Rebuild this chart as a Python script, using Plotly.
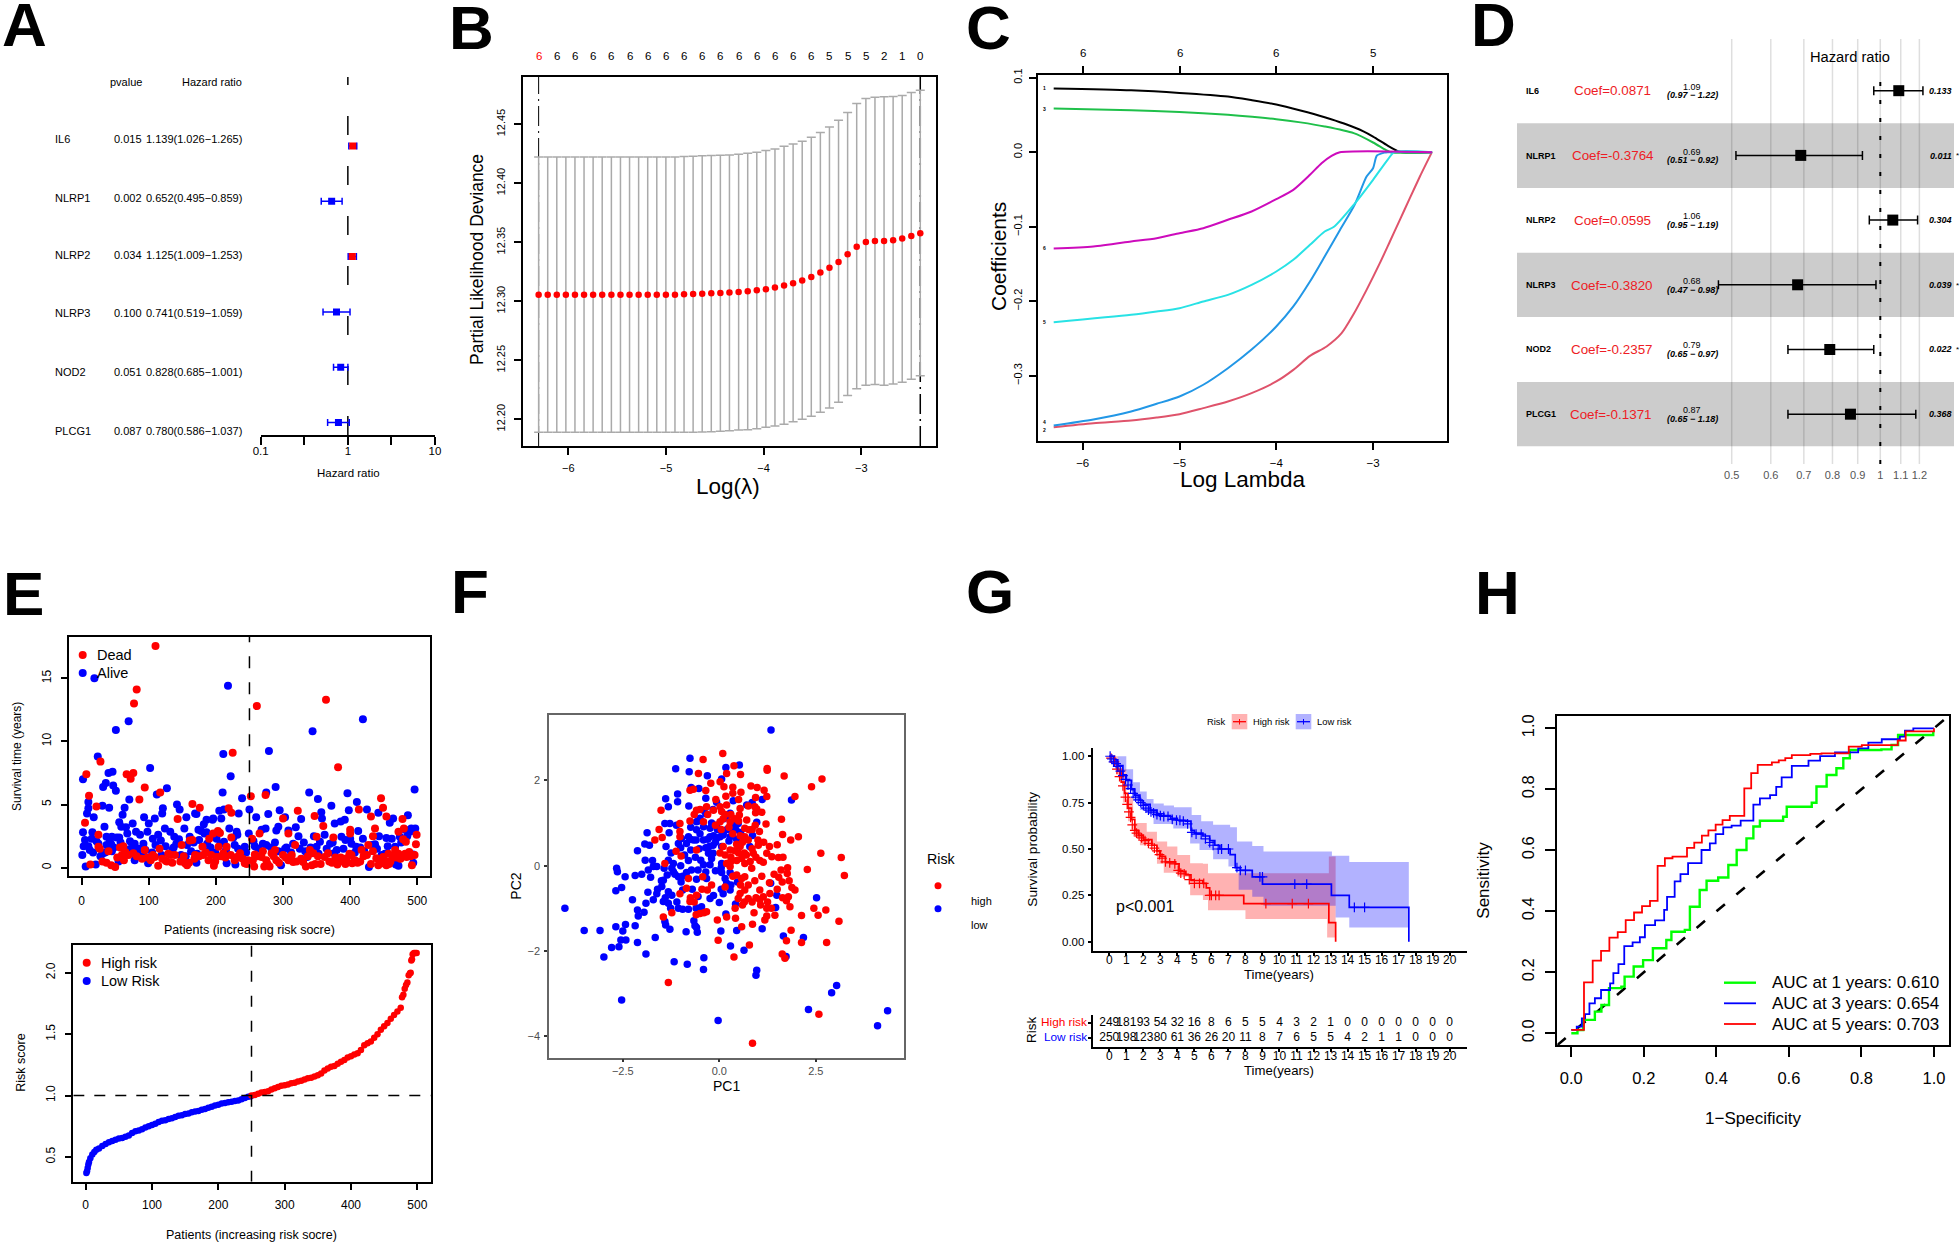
import plotly.graph_objects as go

W, H = 1960, 1244
FONT = "Liberation Sans"

# ---- A
a_genes = ["IL6", "NLRP1", "NLRP2", "NLRP3", "NOD2", "PLCG1"]
a_p = ["0.015", "0.002", "0.034", "0.100", "0.051", "0.087"]
a_txt = ["1.139(1.026−1.265)", "0.652(0.495−0.859)", "1.125(1.009−1.253)",
         "0.741(0.519−1.059)", "0.828(0.685−1.001)", "0.780(0.586−1.037)"]
a_hr = [1.139, 0.652, 1.125, 0.741, 0.828, 0.780]
a_lo = [1.026, 0.495, 1.009, 0.519, 0.685, 0.586]
a_hi = [1.265, 0.859, 1.253, 1.059, 1.001, 1.037]

# ---- B
b_x = [-6.304,-6.211,-6.118,-6.025,-5.932,-5.839,-5.746,-5.653,-5.559,-5.466,-5.373,-5.280,-5.187,-5.094,-5.001,-4.908,-4.815,-4.722,-4.629,-4.536,-4.443,-4.350,-4.256,-4.163,-4.070,-3.977,-3.884,-3.791,-3.698,-3.605,-3.512,-3.419,-3.326,-3.233,-3.140,-3.047,-2.953,-2.860,-2.767,-2.674,-2.581,-2.488,-2.396]
b_mean = [12.3056]*16 + [12.3060,12.3062,12.3064,12.3068,12.3071,12.3075,12.3079,12.3085,12.3093,12.3102,12.3116,12.3133,12.3153,12.3175,12.3206,12.3243,12.3285,12.3333,12.3398,12.3463,12.3503,12.3511,12.3511,12.3517,12.3531,12.3554,12.3576]
b_up = [12.4223]*16 + [12.4226,12.4229,12.4232,12.4235,12.4237,12.4240,12.4246,12.4254,12.4263,12.4277,12.4291,12.4314,12.4333,12.4356,12.4390,12.4429,12.4477,12.4534,12.4599,12.4675,12.4718,12.4729,12.4732,12.4735,12.4743,12.4768,12.4788]
b_lo = [12.1890]*18 + [12.1893,12.1895,12.1898,12.1904,12.1910,12.1912,12.1921,12.1932,12.1943,12.1958,12.1980,12.2000,12.2025,12.2059,12.2096,12.2144,12.2201,12.2260,12.2288,12.2294,12.2288,12.2299,12.2314,12.2339,12.2370]
b_top = ["6"]*16 + ["5","5","5","2","1","0"]

# ---- C
c_black_x = [-6.3,-5.5,-5,-4.5,-4.25,-4,-3.75,-3.5,-3.3,-3.1,-3,-2.85,-2.75,-2.7,-2.39]
c_black_y = [.0855,.083,.0796,.0747,.0697,.064,.056,.047,.0385,.028,.021,.0089,.0018,0,0]
c_green_x = [-6.3,-5.5,-5,-4.5,-4.25,-4,-3.75,-3.5,-3.2,-3,-2.87,-2.82,-2.39]
c_green_y = [.0586,.0564,.0541,.0501,.0475,.0443,.04,.0345,.0255,.013,.003,0,0]
c_mag_x = [-6.3,-5.89,-5.5,-5.236,-5,-4.754,-4.5,-4.255,-4,-3.824,-3.652,-3.532,-3.429,-3.343,-2.39]
c_mag_y = [-.1293,-.1266,-.1199,-.1154,-.1087,-.102,-.0908,-.0796,-.0631,-.0506,-.0304,-.0148,-.0049,0,0]
c_cyan_x = [-6.3,-5.5,-5.236,-5,-4.754,-4.5,-4.255,-4,-3.824,-3.652,-3.5,-3.4,-3.2,-3,-2.85,-2.78,-2.39]
c_cyan_y = [-.2282,-.2183,-.2139,-.2094,-.2004,-.1915,-.1781,-.1602,-.1445,-.1244,-.1065,-.0998,-.0707,-.0371,-.0103,0,0]
c_blue_x = [-6.3,-5.89,-5.5,-5.236,-5,-4.754,-4.5,-4.255,-4,-3.824,-3.652,-3.5,-3.342,-3.188,-3.067,-3,-2.96,-2.88,-2.85,-2.39]
c_blue_y = [-.3669,-.3588,-.3481,-.3378,-.328,-.3122,-.29,-.265,-.234,-.2071,-.1736,-.14,-.1043,-.0698,-.0327,-.0215,-.0045,-.0005,0,0]
c_red_x = [-6.3,-5.89,-5.5,-5.236,-5,-4.754,-4.5,-4.255,-4,-3.824,-3.652,-3.48,-3.325,-3.205,-3.067,-2.93,-2.826,-2.723,-2.62,-2.516,-2.392]
c_red_y = [-.3691,-.3638,-.3602,-.3562,-.3517,-.3436,-.3347,-.3235,-.3078,-.2922,-.2734,-.2608,-.243,-.2183,-.1848,-.149,-.1199,-.0908,-.0617,-.0327,0]

# ---- D
d_genes = ["IL6", "NLRP1", "NLRP2", "NLRP3", "NOD2", "PLCG1"]
d_coef = ["Coef=0.0871", "Coef=-0.3764", "Coef=0.0595", "Coef=-0.3820", "Coef=-0.2357", "Coef=-0.1371"]
d_hr = [1.09, 0.69, 1.06, 0.68, 0.79, 0.87]
d_lo = [0.97, 0.51, 0.95, 0.47, 0.65, 0.65]
d_hi = [1.22, 0.92, 1.19, 0.98, 0.97, 1.18]
d_hrt = ["1.09", "0.69", "1.06", "0.68", "0.79", "0.87"]
d_cit = ["(0.97 − 1.22)", "(0.51 − 0.92)", "(0.95 − 1.19)", "(0.47 − 0.98)", "(0.65 − 0.97)", "(0.65 − 1.18)"]
d_p = ["0.133", "0.011", "0.304", "0.039", "0.022", "0.368"]
d_star = ["", "*", "", "*", "*", ""]
d_ticks = [0.5, 0.6, 0.7, 0.8, 0.9, 1, 1.1, 1.2]
d_ticktext = ["0.5", "0.6", "0.7", "0.8", "0.9", "1", "1.1", "1.2"]

# ---- E (upper)
e_blue = [(19,15.0),(51,10.9),(70,11.6),(24,8.8),(2,7.0),(40,7.5),(46,7.6),(36,6.7),(32,6.4),(47,6.5),(51,6.1),(10,5.2),(10,4.7),(8,4.3),(31,4.9),(41,4.75),(71,5.4),(64,4.75),(61,4.2),(102,7.9),(127,6.3),(112,5.8),(142,5.0),(146,4.6),(121,4.7),(120,4.3),(109,3.9),(93,4.0),(100,3.5),(18,4.0),(56,3.6),(59,3.25),(66,3.2),(76,3.5),(34,3.25),(2,2.8),(16,2.8),(15,2.3),(1,1.0),(6,0.1),(21,0.25),(17,1.2),(31,1.1),(25,1.9),(3,1.7),(10,1.7),(45,1.3),(37,2.45),(45,2.45),(52,2.4),(56,2.4),(37,1.8),(44,1.85),(55,0.5),(81,2.85),(87,2.6),(72,2.1),(79,1.9),(92,1.9),(84,1.5),(70,1.45),(79,0.6),(89,0.9),(99,0.35),(98,2.85),(106,2.3),(118,2.15),(124,3.1),(132,2.85),(138,2.45),(145,2.25),(153,3.1),(156,4.0),(171,4.25),(169,4.3),(182,3.45),(186,3.8),(196,3.9),(195,3.8),(205,4.5),(212,4.6),(208,3.9),(210,5.95),(211,9.0),(218,14.4),(222,7.25),(239,5.5),(234,4.3),(250,4.6),(260,4.0),(220,3.1),(231,2.85),(232,2.6),(249,2.7),(174,3.0),(186,2.8),(161,2.45),(175,2.2),(187,1.9),(190,1.35),(201,2.3),(212,2.05),(228,1.8),(243,1.65),(238,1.15),(216,.35),(229,.25),(171,.4),(149,.6),(157,1.8),(137,1.6),(119,1.0),(256,2.1),(275,5.95),(279,9.25),(289,6.4),(278,4.25),(295,4.55),(303,4.0),(268,3.0),(274,3.1),(290,2.95),(293,3.25),(308,2.95),(319,3.2),(327,3.85),(323,2.5),(339,5.95),(344,10.8),(352,5.45),(357,4.4),(358,3.9),(372,4.9),(396,5.9),(398,4.55),(392,3.8),(386,3.65),(377,3.5),(419,11.75),(410,5.2),(425,4.6),(442,4.35),(412,2.9),(419,2.3),(400,2.3),(387,2.45),(362,2.6),(346,2.5),(331,2.0),(315,1.9),(303,1.5),(288,2.0),(275,1.8),(263,1.5),(297,.2),(336,.85),(350,1.65),(355,2.05),(370,1.9),(376,1.15),(390,1.5),(384,.5),(409,1.65),(428,.05),(432,1.8),(443,2.5),(454,2.35),(437,1.85),(452,1.1),(464,3.9),(459,3.55),(486,4.15),(496,6.2),(497,3.1),(482,3.0),(489,2.85),(474,2.45),(467,1.65),(494,1.05),(494,.4),(472,.15),(468,.25)]
e_blue_band = [(5,2.2),(12,1.4),(22,2.1),(28,.9),(35,1.2),(42,2.1),(48,1.6),(58,2.0),(63,.9),(68,2.7),(75,1.6),(83,1.1),(95,1.4),(105,1.2),(110,1.8),(114,2.6),(125,1.7),(135,1.4),(141,1.9),(148,1.0),(155,.9),(163,1.3),(167,2.0),(172,1.1),(178,2.9),(183,2.7),(192,1.6),(199,1.2),(207,1.9),(215,1.4),(226,2.4),(233,1.5),(245,1.2),(258,1.7),(270,1.9),(282,1.6),(293,1.3),(305,1.6),(312,1.2),(325,1.5),(333,1.3),(341,1.6),(353,1.1),(365,1.5),(374,2.0),(380,1.4),(393,2.2),(402,1.9),(407,1.2),(415,1.6),(421,1.3),(440,1.5),(447,1.0),(456,1.7),(462,2.3),(470,.5),(476,2.0),(485,2.5),(491,3.1)]
e_red = [(110,17.55),(82,14.1),(78,13.0),(261,12.8),(364,13.3),(225,9.1),(382,7.95),(28,8.4),(7,7.4),(67,7.4),(77,7.5),(73,7.05),(94,6.35),(11,5.7),(86,5.4),(117,5.95),(165,5.05),(176,4.75),(22,4.85),(5,3.55),(143,3.85),(219,4.7),(223,4.35),(252,5.65),(274,5.75),(322,4.5),(347,4.1),(300,3.9),(360,3.3),(446,5.5),(449,4.75),(413,4.6),(431,4.05),(454,4.05),(478,3.85),(437,3.1),(400,3.0),(400,2.7),(472,2.85),(480,3.1),(499,2.6),(498,1.85),(483,2.05),(479,2.25),(434,2.5),(375,2.4),(350,2.45),(308,2.7),(265,2.7),(254,2.3),(203,2.9),(196,2.7),(206,2.75),(223,2.4),(190,2.3),(180,1.65),(149,1.8),(161,2.15),(165,2.2),(25,2.6),(25,1.65),(27,1.5),(62,1.7),(57,1.6),(65,1.25),(63,.6),(53,.8),(37,.4),(44,.2),(50,.05),(13,.25),(77,1.15),(94,1.4),(103,.6),(109,.85),(114,.15),(116,1.5),(129,1.1),(125,.55),(139,1.0),(135,.4),(154,.35),(157,.2),(169,1.0),(181,1.0),(189,.6),(197,.15),(201,.85),(204,1.65),(216,1.65),(211,1.15),(231,.85),(236,1.15),(243,.35),(248,.6),(257,.1),(258,1.05),(268,.85),(272,.1),(280,.1),(275,.6),(283,1.15),(290,.6),(288,1.4),(300,1.0),(308,.6),(313,1.0),(315,.45),(318,1.8),(330,.45),(334,.1),(343,.2),(340,1.4),(345,1.15),(356,.3),(362,.85),(367,1.15),(373,.4),(381,.25),(390,.5),(395,.75),(402,1.0),(403,.35),(415,.5),(417,1.4),(425,1.0),(427,1.8),(434,1.3),(439,.75),(442,.2),(449,.85),(449,.35),(454,.2),(457,1.1),(460,.5),(467,1.4),(472,1.1),(477,.9),(484,.85),(488,1.25),(492,.2)]
e_red_band = [(31,.5),(40,1.3),(60,1.0),(70,1.0),(82,.9),(90,.7),(98,.8),(106,1.0),(120,.7),(127,.5),(133,1.0),(147,.5),(152,.9),(160,.4),(168,.7),(175,.9),(185,1.2),(193,1.0),(199,.5),(208,.9),(214,.8),(222,1.0),(228,.6),(234,.8),(240,.7),(246,.3),(255,.6),(262,.9),(270,1.3),(277,.3),(286,.9),(294,.4),(304,.8),(311,.7),(320,.5),(327,.7),(337,.9),(348,.3),(352,.9),(369,.5),(378,.8),(386,.8),(393,.3),(399,1.1),(407,.6),(411,.4),(420,.9),(431,.3),(445,.5),(451,.6),(458,.3),(463,.9),(469,.8),(475,.7),(482,1.1),(490,.9),(496,1.0)]

# ---- E (lower)
r_low_x = [1,2,3,4,5,7,10,13,16,20,25,30,35,40,45,50,55,60,65,70,75,80,85,90,95,100,105,110,115,120,125,130,135,140,145,150,155,160,165,170,175,180,185,190,195,200,205,210,215,220,225,230,235,240,245,249]
r_low_y = [.37,.385,.41,.44,.46,.49,.52,.54,.56,.57,.59,.605,.62,.63,.64,.65,.655,.665,.675,.695,.71,.715,.725,.74,.75,.76,.77,.785,.795,.80,.81,.815,.825,.835,.84,.85,.855,.865,.87,.875,.885,.89,.90,.91,.92,.925,.935,.94,.945,.95,.955,.96,.97,.98,.99,.995]
r_high_x = [250,255,260,265,270,275,280,285,290,295,300,305,310,315,320,325,330,335,340,345,350,355,360,365,370,375,380,385,390,395,400,405,410,415,420,425,430,435,440,445,450,455,460,465,470,475,477,479,481,483,485,487,489,490,491,492,493,495,497,499]
r_high_y = [1.0,1.005,1.015,1.025,1.03,1.035,1.05,1.06,1.07,1.08,1.085,1.09,1.10,1.105,1.115,1.12,1.13,1.14,1.145,1.155,1.165,1.18,1.205,1.22,1.235,1.24,1.26,1.275,1.29,1.31,1.32,1.335,1.345,1.37,1.41,1.425,1.44,1.47,1.50,1.535,1.565,1.59,1.625,1.655,1.685,1.715,1.80,1.82,1.87,1.90,1.92,1.98,1.995,2.0,2.10,2.11,2.15,2.16,2.16,2.16]

# ---- F
f_blue = [(1.34,3.18),(-.76,2.52),(.52,2.36),(.17,2.30),(-1.13,2.27),(-.78,2.20),(-.31,2.11),(.06,2.03),(-.53,1.81),(-.73,1.83),(-1.39,1.57),(-1.08,1.68),(-.35,1.58),(.36,1.52),(-.07,1.49),(1.87,1.54),(1.11,1.55),(-1.32,1.38),(-1.08,1.50),(-.79,1.40),(-.41,1.30),(-.16,1.32),(.85,1.48),(.71,1.42),(.19,1.16),(.28,1.23),(-.50,1.11),(-.59,1.03),(-1.41,.99),(-1.28,.99),(-1.11,.95),(-.74,.90),(-.59,.84),(-.41,.91),(-.24,.88),(-.07,.95),(.36,.95),(.49,.99),(.97,1.02),(.43,.84),(-1.87,.77),(-1.30,.77),(-.80,.68),(-.98,.64),(-.85,.52),(-.67,.60),(-.41,.60),(-.24,.68),(-.07,.64),(.02,.68),(.10,.76),(.28,.68),(.86,.71),(-1.93,.51),(-1.81,.48),(-1.38,.45),(-1.06,.52),(-.74,.37),(-.26,.45),(-.16,.48),(.06,.45),(.79,.45),(-2.12,.35),(-1.92,.13),(-1.73,.12),(-1.32,.13),(-1.19,.05),(-.80,.12),(-.48,.13),(-.28,.29),(-.16,.29),(-.20,.17),(-1.62,-.02),(-1.84,-.10),(-1.71,-.02),(-1.43,-.06),(-1.23,-.06),(-.72,-.10),(-.41,.02),(-.24,.02),(.06,.05),(-2.66,-.06),(-2.64,-.14),(-2.44,-.26),(-2.18,-.23),(-2.01,-.20),(-1.78,-.27),(-1.45,-.34),(-1.19,-.14),(-1.06,-.26),(-.85,-.16),(-.59,-.32),(-.33,-.30),(.06,-.16),(.28,-.16),(-.99,-.38),(-.95,-.57),(-1.32,-.61),(-1.49,-.49),(-1.23,-.69),(-2.68,-.59),(-2.53,-.51),(-1.85,-.62),(-1.62,-.66),(-1.71,-.80),(-2.25,-.80),(-1.90,-.88),(-1.45,-.84),(-1.32,-.88),(-1.26,-1.0),(-1.06,-1.0),(-.95,-1.02),(-.80,-1.02),(-.57,-1.0),(-.46,-.96),(-.24,-.77),(0,-.86),(.10,-.66),(.28,-.57),(.19,-.41),(.47,-.38),(1.33,-.41),(1.49,-.69),(2.52,-.75),(.42,-.90),(1.46,-.98),(-4.0,-1.0),(-2.12,-1.04),(-1.95,-1.09),(-2.10,-1.18),(-.66,-1.29),(-1.41,-1.31),(-1.39,-1.39),(-1.28,-1.49),(-.59,-1.45),(-.63,-1.41),(-2.43,-1.38),(-2.68,-1.43),(-2.18,-1.41),(-3.50,-1.52),(-3.09,-1.52),(-2.50,-1.53),(.04,-1.53),(-.86,-1.55),(-.57,-1.56),(.45,-1.52),(1.11,-1.48),(.17,-1.13),(-1.66,-1.68),(1.66,-1.65),(2.18,-1.68),(-2.55,-1.74),(-2.42,-1.74),(-2.12,-1.80),(-2.79,-1.92),(-2.60,-1.90),(.29,-1.88),(.64,-1.98),(-1.90,-2.07),(-2.99,-2.14),(-.40,-2.16),(-1.17,-2.25),(-.83,-2.31),(-.41,-2.43),(1.73,-2.13),(.97,-2.45),(.95,-2.57),(3.04,-2.81),(2.91,-2.98),(-2.53,-3.15),(2.31,-3.37),(4.36,-3.40),(-.03,-3.63),(4.10,-3.75)]
f_blue_core = [(-.6,.6),(-.5,.75),(-.3,.62),(-.15,.7),(-.1,.55),(-.35,.42),(-.52,.4),(-.62,.2),(-.9,.25),(-1.0,.0),(-1.15,-.2),(-1.35,-.22),(-1.5,-.35),(-.95,-.25),(-.55,-.1),(-.35,-.15),(-.1,-.12),(.05,-.05),(.15,-.3),(.3,-.45),(.05,-.55),(-.15,-.7),(-.55,-.72),(-.7,-.55),(-1.6,-.55),(-1.4,-.75),(-1.1,-.85),(-.6,-1.0),(.1,.72),(.25,.58),(.2,.85),(.35,.8),(.45,.62),(.55,.78),(-.55,1.05),(-.35,1.22),(-1.0,.42),(-.75,.62),(-1.25,.3),(.12,1.1),(-.2,1.0),(-.05,.85)]
f_red = [(.09,2.63),(-.42,2.49),(.38,2.34),(1.24,2.28),(1.24,2.24),(.19,2.16),(-.54,2.16),(.55,2.14),(1.68,2.10),(2.66,2.03),(2.39,1.85),(-.22,1.93),(.02,1.97),(.12,1.85),(.35,1.84),(.82,1.87),(.98,1.83),(1.16,1.77),(-.35,1.76),(-.76,1.77),(-.67,1.79),(.56,1.72),(-.09,1.55),(.17,1.63),(1.23,1.62),(.94,1.60),(1.96,1.62),(-1.51,1.30),(-.50,1.32),(-.33,1.38),(-.59,1.30),(.02,1.38),(.19,1.42),(.54,1.34),(.92,1.38),(.97,1.33),(.94,1.24),(.06,1.27),(.52,1.19),(1.61,1.09),(-1.02,.99),(-.76,1.05),(-.41,1.03),(.02,1.03),(.28,1.03),(.71,1.07),(1.21,.98),(.93,.95),(-1.56,.85),(-1.02,.80),(.66,.88),(.77,.84),(1.04,.80),(1.64,.73),(-1.48,.66),(-1.67,.60),(-1.02,.68),(.54,.70),(.66,.68),(1.85,.60),(2.05,.68),(-1.12,.34),(-.99,.23),(-.59,.37),(.02,.30),(.28,.37),(.54,.45),(1.01,.48),(.88,.29),(1.50,.49),(2.63,.29),(3.16,.19),(1.23,.29),(1.36,.21),(1.53,.19),(1.05,.12),(1.14,.08),(-1.41,.05),(.19,.05),(.58,.17),(.66,.05),(.84,-.06),(.28,-.02),(2.28,-.09),(1.77,-.05),(1.76,-.18),(1.42,-.20),(1.54,-.27),(3.24,-.23),(-.43,-.26),(-.80,-.30),(.66,-.26),(.92,-.35),(.45,-.22),(.58,-.30),(1.63,-.38),(1.81,-.35),(1.88,-.51),(1.96,-.57),(1.05,-.57),(1.31,-.65),(-.85,-.53),(-.31,-.57),(-.59,-.69),(-1.02,-.66),(.66,-.57),(.54,-.65),(.75,-.77),(.49,-.77),(1.64,-.75),(1.79,-.73),(1.74,-.82),(-.76,-.84),(1.05,-.80),(1.14,-.73),(1.83,-.96),(1.07,-.92),(.60,-.92),(.41,-1.0),(1.23,-1.0),(2.45,-1.0),(.90,-1.10),(2.76,-1.04),(2.56,-1.16),(1.44,-1.16),(1.23,-1.18),(2.13,-1.17),(-.50,-1.12),(-.33,-1.08),(-1.45,-1.20),(-1.23,-1.10),(-.05,-1.27),(.19,-1.20),(.42,-1.23),(1.18,-1.27),(3.10,-1.30),(.86,-1.37),(.58,-1.43),(1.86,-1.51),(-.03,-1.75),(1.74,-1.76),(2.13,-1.80),(2.78,-1.80),(.78,-1.86),(.38,-2.14),(1.63,-2.07),(1.70,-2.17),(-1.32,-2.74),(2.58,-3.48),(.86,-4.16)]
f_red_core = [(.3,1.2),(.4,1.1),(.5,1.05),(.15,1.2),(.1,1.1),(.25,.9),(.05,.85),(-.1,.95),(.35,.75),(.45,.5),(.6,.55),(.75,.6),(.85,.4),(.4,.35),(.3,.2),(.15,.25),(.5,.3),(.7,.25),(.95,.2),(.65,.3),(.45,.12),(.3,.1),(.8,.1),(.35,-.25),(.15,-.5),(.55,-.45),(.75,-.45),(.85,-.85),(1.1,-.25),(1.3,-.4),(1.5,-.55),(1.25,-.85),(1.35,-1.0),(.95,-.75),(-.2,-.45),(-.45,-.55),(-.65,-.85),(-.4,-1.1),(-.6,-1.15),(-.75,-.75),(.65,-.85),(1.0,.6),(1.15,.55),(.85,.85),(1.1,1.25),(.75,1.4),(.5,1.55),(.35,1.7),(.1,.45),(-.3,1.2),(-.15,1.3),(-.65,1.2),(1.6,-.1),(1.65,.2),(1.3,.45)]

# ---- G
g_low = [(0,1.0),(.3,.98),(.5,.95),(.8,.90),(1,.87),(1.3,.82),(1.5,.79),(1.8,.76),(2,.74),(2.4,.71),(2.8,.69),(3.2,.68),(3.6,.665),(4,.655),(4.5,.65),(4.8,.60),(5.0,.585),(5.5,.57),(5.9,.545),(6.2,.52),(6.5,.50),(7.1,.47),(7.4,.40),(7.7,.385),(8.4,.35),(9.0,.31),(13.05,.25),(14.1,.185),(17.6,0)]
g_high = [(0,1.0),(.3,.96),(.5,.92),(.7,.86),(.9,.80),(1.1,.72),(1.3,.66),(1.5,.60),(1.7,.575),(2,.55),(2.5,.52),(2.8,.49),(3,.46),(3.3,.43),(3.9,.42),(4.1,.38),(4.5,.36),(4.8,.33),(5.5,.315),(5.7,.29),(5.9,.25),(7.9,.205),(12.9,.103),(13.3,0)]
g_low_up = [(0,1.0),(1,.93),(1.4,.86),(1.8,.81),(2.2,.77),(2.6,.745),(3.2,.735),(3.8,.725),(4.84,.683),(5.4,.65),(6.1,.63),(7.1,.617),(7.5,.54),(8.4,.516),(9.06,.486),(13.08,.464),(14.1,.43),(17.6,.43)]
g_low_lo = [(0,1.0),(.5,.92),(1,.82),(1.4,.76),(1.8,.71),(2.6,.635),(3.76,.61),(4.75,.53),(5.3,.495),(6.1,.444),(7,.405),(7.4,.378),(7.6,.28),(8.4,.243),(9.06,.194),(13.3,.13),(14.1,.077),(17.6,.077)]
g_high_up = [(0,1.0),(.5,.93),(1,.78),(1.4,.64),(2.2,.593),(2.8,.54),(3.4,.513),(4,.468),(4.75,.423),(5.5,.42),(5.8,.369),(12.9,.459),(13.3,.459)]
g_high_lo = [(0,1.0),(.4,.90),(.8,.75),(1.1,.65),(1.4,.567),(1.8,.52),(2.8,.42),(3.2,.372),(4,.35),(4.75,.25),(5.5,.225),(5.8,.17),(8,.122),(12.8,.023),(13.3,.023)]
g_cens_high = [(.1,.99),(.3,.97),(.45,.93),(.6,.89),(.8,.84),(.95,.78),(1.05,.74),(1.15,.70),(1.25,.67),(1.35,.63),(1.5,.60),(1.6,.585),(1.75,.57),(1.9,.56),(2.1,.545),(2.3,.53),(2.5,.52),(2.65,.505),(2.8,.49),(2.95,.47),(3.1,.45),(3.3,.43),(3.55,.425),(3.85,.42),(4.05,.385),(4.2,.37),(4.4,.365),(4.7,.335),(5,.315),(5.3,.315),(5.55,.315),(5.9,.25),(6.0,.25),(6.25,.25),(6.45,.25),(9.2,.205),(10.75,.205),(11.7,.205)]
g_cens_low = [(.05,1),(.15,.985),(.25,.97),(.4,.96),(.5,.945),(.65,.92),(.8,.895),(.95,.875),(1.1,.845),(1.25,.825),(1.4,.80),(1.55,.78),(1.7,.765),(1.85,.75),(2.0,.735),(2.15,.72),(2.3,.71),(2.45,.70),(2.6,.695),(2.8,.685),(3,.68),(3.2,.675),(3.45,.675),(3.7,.66),(3.95,.655),(4.15,.655),(4.35,.65),(4.6,.635),(4.85,.59),(5.1,.58),(5.4,.58),(5.65,.555),(5.9,.535),(6.1,.52),(6.4,.50),(6.6,.50),(7.0,.50),(7.5,.40),(7.7,.385),(8.0,.385),(8.85,.35),(9.0,.35),(10.9,.31),(11.6,.31),(14.4,.185),(15.0,.185)]
g_years = list(range(21))
g_n_high = [249,181,93,54,32,16,8,6,5,5,4,3,2,1,0,0,0,0,0,0,0]
g_n_low = [250,198,123,80,61,36,26,20,11,8,7,6,5,5,4,2,1,1,0,0,0]

# ---- H
h_red = [(0,.011),(.035,.167),(.059,.238),(.082,.270),(.105,.314),(.128,.332),(.150,.371),(.173,.396),(.195,.417),(.217,.434),(.238,.549),(.258,.574),(.279,.579),(.319,.608),(.339,.625),(.360,.648),(.378,.665),(.398,.684),(.417,.699),(.437,.713),(.477,.803),(.496,.853),(.514,.880),(.553,.888),(.572,.895),(.590,.902),(.608,.912),(.659,.916),(.690,.918),(.765,.94),(.801,.945),(.900,.96),(.922,.99),(1.0,1.0)]
h_blue = [(0,.011),(.015,.022),(.029,.049),(.038,.063),(.050,.098),(.065,.115),(.082,.142),(.107,.164),(.116,.197),(.130,.227),(.146,.286),(.169,.298),(.189,.315),(.203,.355),(.231,.370),(.256,.405),(.264,.447),(.285,.498),(.301,.522),(.322,.558),(.359,.601),(.382,.623),(.398,.653),(.419,.675),(.442,.681),(.467,.697),(.502,.750),(.520,.770),(.548,.781),(.565,.808),(.580,.839),(.608,.877),(.654,.894),(.686,.909),(.727,.921),(.791,.934),(.819,.953),(.856,.964),(.906,.973),(.920,.992),(.943,1.0),(1.0,1.0)]
h_green = [(0,0),(.017,.011),(.033,.044),(.065,.071),(.083,.093),(.104,.148),(.138,.153),(.147,.186),(.172,.219),(.198,.240),(.225,.279),(.262,.306),(.276,.333),(.313,.339),(.327,.415),(.354,.470),(.373,.500),(.405,.511),(.433,.552),(.456,.601),(.483,.639),(.502,.678),(.520,.697),(.584,.710),(.594,.743),(.663,.756),(.676,.809),(.704,.847),(.731,.869),(.750,.902),(.768,.929),(.855,.931),(.883,.945),(.901,.978),(.998,.989)]
h_legend = ["AUC at 1 years: 0.610", "AUC at 3 years: 0.654", "AUC at 5 years: 0.703"]

# ============================================================
fig = go.Figure()
layout = dict(width=W, height=H, margin=dict(l=0, r=0, t=0, b=0), autosize=False,
              paper_bgcolor="white", plot_bgcolor="white", showlegend=False,
              font=dict(family=FONT, color="black"))
ann, shp = [], []


def T(text, x, y, size=12, color="black", xa="center", angle=0, xref="paper", yref="paper", pxx=True, pxy=True):
    ann.append(dict(text=text, x=(x / W if pxx else x), y=(1 - y / H if pxy else y), xref=xref, yref=yref,
                    showarrow=False, xanchor=xa, yanchor="middle", textangle=angle,
                    font=dict(size=size, color=color, family=FONT), borderpad=0, borderwidth=0))


def box(n, l, t, r, b, xr, yr, xa=None, ya=None):
    xd = dict(domain=[l / W, r / W], range=xr, anchor=f"y{n}", showgrid=False, zeroline=False, automargin=False)
    yd = dict(domain=[1 - b / H, 1 - t / H], range=yr, anchor=f"x{n}", showgrid=False, zeroline=False, automargin=False)
    xd.update(xa or {})
    yd.update(ya or {})
    layout[f"xaxis{n}"] = xd
    layout[f"yaxis{n}"] = yd


def ticks(vals, text=None, size=12, angle=0, length=7, lw=1.5, mirror=True, line=True, standoff=None, color="black"):
    d = dict(tickmode="array", tickvals=vals, ticktext=text if text else [str(v) for v in vals],
             ticks="outside", ticklen=length, tickwidth=lw, tickcolor="black",
             tickfont=dict(size=size, family=FONT, color=color), showline=line, linecolor="black", linewidth=lw, mirror=mirror)
    if angle:
        d["tickangle"] = angle
    if standoff is not None:
        d["ticklabelstandoff"] = standoff
    return d


def line(n, x, y, color="black", width=1.5, dash=None, shape="linear", smoothing=None):
    ld = dict(color=color, width=width, dash=dash, shape=shape)
    if smoothing is not None:
        ld["smoothing"] = smoothing
    fig.add_trace(go.Scatter(x=x, y=y, mode="lines", xaxis=f"x{n}", yaxis=f"y{n}", line=ld))


def dots(n, pts, color, size):
    fig.add_trace(go.Scatter(x=[p[0] for p in pts], y=[p[1] for p in pts], mode="markers", xaxis=f"x{n}", yaxis=f"y{n}",
                             marker=dict(color=color, size=size, line=dict(width=0))))


def circle(cx, cy, r, color):
    shp.append(dict(type="circle", xref="paper", yref="paper", x0=(cx - r) / W, x1=(cx + r) / W,
                    y0=1 - (cy + r) / H, y1=1 - (cy - r) / H, fillcolor=color, line=dict(width=0)))


def rect(l, t, r, b, color, layer="below"):
    shp.append(dict(type="rect", xref="paper", yref="paper", x0=l / W, x1=r / W, y0=1 - b / H, y1=1 - t / H,
                    fillcolor=color, line=dict(width=0), layer=layer))


def hline_px(x0, x1, y0, y1, color, width):
    shp.append(dict(type="line", xref="paper", yref="paper", x0=x0 / W, x1=x1 / W, y0=1 - y0 / H, y1=1 - y1 / H,
                    line=dict(color=color, width=width)))


# panel letters
for s, x, y in [("A", 24, 25), ("B", 471, 28), ("C", 988, 28), ("D", 1493, 25),
                ("E", 23, 593), ("F", 470, 591), ("G", 990, 591), ("H", 1497, 592)]:
    T(f"<b>{s}</b>", x, y, size=62)

# ---- A
box(2, 260.7, 77, 435, 435, [-1, 1], [5.226, -1.248],
    xa=dict(type="log", **ticks([0.1, 0.316, 1, 3.16, 10], ["0.1", "", "1", "", "10"], size=11.5, length=8, lw=1.5, mirror=False, standoff=-4)),
    ya=dict(visible=False))
line(2, [1, 1], [5.226, -1.248], width=1.5, dash="19px,31px")
for i in range(6):
    col = "red" if a_hr[i] > 1 else "blue"
    fig.add_trace(go.Scatter(x=[a_hr[i]], y=[i], mode="markers", xaxis="x2", yaxis="y2",
                             marker=dict(symbol="square", size=7, color=col, line=dict(width=0)),
                             error_x=dict(type="data", symmetric=False, array=[a_hi[i] - a_hr[i]], arrayminus=[a_hr[i] - a_lo[i]],
                                          color="blue", thickness=1.5, width=3.5)))
T("pvalue", 142, 81.5, 11, xa="right")
T("Hazard ratio", 242, 82, 11, xa="right")
a_rows = [139, 197.5, 255.5, 313.5, 372, 430.5]
for i in range(6):
    T(a_genes[i], 55, a_rows[i], 11, xa="left")
    T(a_p[i], 142, a_rows[i], 11, xa="right")
    T(a_txt[i], 242, a_rows[i], 11, xa="right")
T("Hazard ratio", 348, 473, 11.5)

# ---- B
box(3, 523, 77, 936, 446, [-6.464, -2.235], [12.1774, 12.490],
    xa=ticks([-6, -5, -4, -3], ["−6", "−5", "−4", "−3"], size=11, lw=2, standoff=4),
    ya=ticks([12.20, 12.25, 12.30, 12.35, 12.40, 12.45], ["12.20", "12.25", "12.30", "12.35", "12.40", "12.45"], size=11, angle=-90, lw=2, standoff=5))
line(3, [b_x[0], b_x[0]], [12.1774, 12.490], width=1, dash="20px,5px,2px,5px")
line(3, [b_x[-1], b_x[-1]], [12.1774, 12.490], width=1.5, dash="20px,5px,2px,5px")
fig.add_trace(go.Scatter(x=b_x, y=b_mean, mode="markers", xaxis="x3", yaxis="y3",
                         marker=dict(color="red", size=6.5, line=dict(width=0)),
                         error_y=dict(type="data", symmetric=False, array=[u - m for u, m in zip(b_up, b_mean)],
                                      arrayminus=[m - l for m, l in zip(b_mean, b_lo)], color="#aaaaaa", thickness=1.5, width=4.5)))
for i, s in enumerate(b_top):
    T(s, b_x[2 * i], 56, 11.5, color="red" if i == 0 else "black", xref="x3", pxx=False)
T("Log(λ)", 728, 487, 22.5)
T("Partial Likelihood Deviance", 477, 260, 17.5, angle=-90)

# ---- C
box(4, 1038.3, 75.3, 1447, 441, [-6.459, -2.236], [-0.3877, 0.1032],
    xa=ticks([-6, -5, -4, -3], ["−6", "−5", "−4", "−3"], size=11.5, lw=2, mirror="allticks", standoff=3),
    ya=ticks([-.3, -.2, -.1, 0, .1], ["−0.3", "−0.2", "−0.1", "0.0", "0.1"], size=11, angle=-90, lw=2, standoff=3))
for xs, ys, c in [(c_black_x, c_black_y, "#000000"), (c_red_x, c_red_y, "#DF536B"), (c_green_x, c_green_y, "#1FC04A"),
                  (c_blue_x, c_blue_y, "#2297E6"), (c_cyan_x, c_cyan_y, "#28E2E5"), (c_mag_x, c_mag_y, "#CD0BBC")]:
    line(4, xs, ys, color=c, width=2, shape="spline", smoothing=0.7)
for s, v in [("1", .0855), ("3", .0586), ("6", -.1293), ("5", -.2282), ("4", -.3625), ("2", -.3735)]:
    T(f"<b>{s}</b>", -6.40, v, 5, xref="x4", yref="y4", pxx=False, pxy=False)
for v, s in zip([-6, -5, -4, -3], ["6", "6", "6", "5"]):
    T(s, v, 53, 11.5, xref="x4", pxx=False)
T("Log Lambda", 1243, 479, 22.5)
T("Coefficients", 998, 257, 21, angle=-90)

# ---- D
for t, b in [(123.3, 188), (252.7, 317), (382, 446.3)]:
    rect(1517, t, 1954, b, "#cccccc")
box(5, 1517, 39, 1954, 464, [-0.736, 0.1493], [5.77, -0.799],
    xa=dict(type="log", tickmode="array", tickvals=d_ticks, ticktext=d_ticktext, ticks="", showline=False,
            tickfont=dict(size=11, family=FONT, color="#555555"), ticklabelstandoff=3),
    ya=dict(visible=False))
for v in d_ticks:
    line(5, [v, v], [5.77, -0.799], color="rgba(0,0,0,0.13)", width=1.5)
line(5, [1, 1], [5.77, -0.32], width=2, dash="4px,14px")
for i in range(6):
    fig.add_trace(go.Scatter(x=[d_hr[i]], y=[i], mode="markers", xaxis="x5", yaxis="y5",
                             marker=dict(symbol="square", size=11, color="black", line=dict(width=0)),
                             error_x=dict(type="data", symmetric=False, array=[d_hi[i] - d_hr[i]], arrayminus=[d_hr[i] - d_lo[i]],
                                          color="black", thickness=1.5, width=4.5)))
d_rows = [90.7, 155.7, 220.3, 285, 349.3, 414.3]
d_cx = [1612, 1613.3, 1612, 1612.3, 1611.7, 1610.7]
for i in range(6):
    y = d_rows[i]
    T(f"<b>{d_genes[i]}</b>", 1526, y, 9, xa="left")
    T(d_coef[i], d_cx[i], y, 13.4, color="#ee1c25")
    T(d_hrt[i], 1692, y - 4, 9)
    T(f"<b><i>{d_cit[i]}</i></b>", 1692.5, y + 4.5, 9)
    T(f"<b><i>{d_p[i]}</i></b>", 1940.5, y, 9)
    if d_star[i]:
        T(d_star[i], 1957, y, 8)
T("Hazard ratio", 1850, 57, 14.7)

# ---- E upper
box(6, 69.3, 636.7, 430.3, 876.3, [-18.4, 519.4], [-0.68, 18.29],
    xa=ticks([0, 100, 200, 300, 400, 500], size=12, standoff=6),
    ya=ticks([0, 5, 10, 15], size=12, angle=-90, standoff=5))
dots(6, e_blue + e_blue_band, "#0000ff", 8)
dots(6, e_red + e_red_band, "#ff0000", 8)
line(6, [250, 250], [-0.68, 18.29], width=1.5, dash="12px,14px")
circle(82.7, 655, 4, "#ff0000")
circle(82.7, 673, 4, "#0000ff")
T("Dead", 96.7, 655, 14.5, xa="left")
T("Alive", 96.7, 673, 14.5, xa="left")
T("Survival time (years)", 17, 757, 12, angle=-90)
T("Patients (increasing risk socre)", 249, 929.5, 12.5)

# ---- E lower
box(7, 73.3, 944.7, 430.7, 1181.7, [-18.7, 520.2], [0.299, 2.228],
    xa=ticks([0, 100, 200, 300, 400, 500], size=12, standoff=4),
    ya=ticks([.5, 1, 1.5, 2], ["0.5", "1.0", "1.5", "2.0"], size=12, angle=-90, standoff=5))
dots(7, list(zip(r_low_x, r_low_y)), "#0000ff", 6.5)
dots(7, list(zip(r_high_x, r_high_y)), "#ff0000", 6.5)
line(7, [-18.7, 520.2], [1, 1], width=1.5, dash="11px,10px")
line(7, [250, 250], [0.299, 2.228], width=1.5, dash="11px,14px")
circle(86.7, 962.7, 4, "#ff0000")
circle(86.7, 981, 4, "#0000ff")
T("High risk", 100.7, 962.7, 14.4, xa="left")
T("Low Risk", 100.7, 981, 14.4, xa="left")
T("Risk score", 20.7, 1063, 12.5, angle=-90)
T("Patients (increasing risk socre)", 251.7, 1234.7, 12.5)

# ---- F
box(8, 549, 715, 904, 1057.7, [-4.412, 4.785], [-4.5, 3.532],
    xa=dict(**ticks([-2.5, 0, 2.5], ["−2.5", "0.0", "2.5"], size=11, length=3, lw=1.5, color="#4d4d4d", standoff=-1), ),
    ya=dict(**ticks([-4, -2, 0, 2], ["−4", "−2", "0", "2"], size=11, length=3, lw=1.5, color="#4d4d4d", standoff=2)))
layout["xaxis8"].update(linecolor="#666666", tickcolor="#333333")
layout["yaxis8"].update(linecolor="#666666", tickcolor="#333333")
dots(8, f_blue + f_blue_core, "#0000ff", 7.5)
dots(8, f_red + f_red_core, "#ff0000", 7.5)
T("PC1", 726, 1085.7, 14)
T("PC2", 516, 886.7, 14, angle=-90)
T("Risk", 927, 859, 14.2, xa="left")
circle(938, 885.7, 3.5, "#ff0000")
circle(938, 908.7, 3.5, "#0000ff")
T("high", 970.7, 900.7, 11, xa="left")
T("low", 970.7, 925, 11, xa="left")

# ---- G
box(9, 1092.7, 747.7, 1466.7, 951, [-0.975, 21.0], [-0.05, 1.046],
    xa=ticks(g_years, size=12, length=3, lw=2, mirror=False, standoff=-6),
    ya=ticks([0, .25, .5, .75, 1], ["0.00", "0.25", "0.50", "0.75", "1.00"], size=11.5, length=3, lw=2, mirror=False, standoff=1))


def ribbon(lo, up, col):
    fig.add_trace(go.Scatter(x=[p[0] for p in lo], y=[p[1] for p in lo], mode="lines", xaxis="x9", yaxis="y9",
                             line=dict(width=0, shape="hv", color=col)))
    fig.add_trace(go.Scatter(x=[p[0] for p in up], y=[p[1] for p in up], mode="lines", xaxis="x9", yaxis="y9",
                             line=dict(width=0, shape="hv", color=col), fill="tonexty", fillcolor=col))


ribbon(g_high_lo, g_high_up, "rgba(255,0,0,0.3)")
ribbon(g_low_lo, g_low_up, "rgba(0,0,255,0.3)")
line(9, [p[0] for p in g_high], [p[1] for p in g_high], color="#ff0000", width=1.7, shape="hv")
line(9, [p[0] for p in g_low], [p[1] for p in g_low], color="#0000ff", width=1.7, shape="hv")
for pts, c in [(g_cens_high, "#ff0000"), (g_cens_low, "#0000ff")]:
    fig.add_trace(go.Scatter(x=[p[0] for p in pts], y=[p[1] for p in pts], mode="markers", xaxis="x9", yaxis="y9",
                             marker=dict(symbol="cross-thin", size=7, line=dict(width=1.2, color=c), color=c)))
T("p<0.001", 1115.7, 906, 16, xa="left")
T("Survival probability", 1031.7, 849, 13.7, angle=-90)
T("Time(years)", 1279, 974.7, 13.2)
T("Risk", 1216.7, 721.7, 9.4)
rect(1231.7, 714, 1247.3, 729.3, "rgba(255,0,0,0.3)")
hline_px(1233, 1246, 721.7, 721.7, "#ff0000", 1.3)
hline_px(1239.5, 1239.5, 719, 724.5, "#ff0000", 1)
T("High risk", 1252.7, 721.7, 9.4, xa="left")
rect(1295.7, 714, 1311.3, 729.3, "rgba(0,0,255,0.3)")
hline_px(1297, 1310, 721.7, 721.7, "#0000ff", 1.3)
hline_px(1303.5, 1303.5, 719, 724.5, "#0000ff", 1)
T("Low risk", 1316.7, 721.7, 9.4, xa="left")

box(10, 1092.7, 1015, 1466.7, 1046.7, [-0.975, 21.0], [-0.56, 1.553],
    xa=ticks(g_years, size=12, length=3, lw=2, mirror=False, standoff=-6),
    ya=ticks([0, 1], ["", ""], size=11, length=3, lw=2, mirror=False))
fig.add_trace(go.Scatter(x=g_years, y=[1] * 21, mode="text", text=[str(v) for v in g_n_high], xaxis="x10", yaxis="y10",
                         textfont=dict(size=12, family=FONT, color="black"), textposition="middle center"))
fig.add_trace(go.Scatter(x=g_years, y=[0] * 21, mode="text", text=[str(v) for v in g_n_low], xaxis="x10", yaxis="y10",
                         textfont=dict(size=12, family=FONT, color="black"), textposition="middle center"))
T("High risk", 1086.7, 1022.3, 11.8, color="#ff0000", xa="right")
T("Low risk", 1086.7, 1036.7, 11.8, color="#0000ff", xa="right")
T("Risk", 1031, 1030, 13.5, angle=-90)
T("Time(years)", 1279, 1070, 13.2)

# ---- H
box(11, 1557.3, 716, 1949, 1045.3, [-0.0386, 1.0414], [-0.0393, 1.0403],
    xa=ticks([0, .2, .4, .6, .8, 1], ["0.0", "0.2", "0.4", "0.6", "0.8", "1.0"], size=16.5, length=10, lw=2, standoff=7),
    ya=ticks([0, .2, .4, .6, .8, 1], ["0.0", "0.2", "0.4", "0.6", "0.8", "1.0"], size=16.5, angle=-90, length=10, lw=2, standoff=5))
line(11, [-0.0386, 1.0414], [-0.0386, 1.0414], width=2.6, dash="11px,15px")
line(11, [p[0] for p in h_green], [p[1] for p in h_green], color="#00ff00", width=2.4, shape="hv")
line(11, [p[0] for p in h_blue], [p[1] for p in h_blue], color="#0000ff", width=1.8, shape="hv")
line(11, [p[0] for p in h_red], [p[1] for p in h_red], color="#ff0000", width=1.8, shape="hv")
for s, y, c, w in zip(h_legend, [982.7, 1003.3, 1024], ["#00ff00", "#0000ff", "#ff0000"], [2.4, 1.8, 1.8]):
    hline_px(1724, 1756, y, y, c, w)
    T(s, 1771.7, y, 17, xa="left")
T("Sensitivity", 1484, 880.7, 17, angle=-90)
T("1−Specificity", 1752.7, 1118.3, 17)

layout["annotations"] = ann
layout["shapes"] = shp
fig.update_layout(**layout)
fig.write_html("out.html", post_script="document.body.style.margin='0';", config={"displayModeBar": False})
